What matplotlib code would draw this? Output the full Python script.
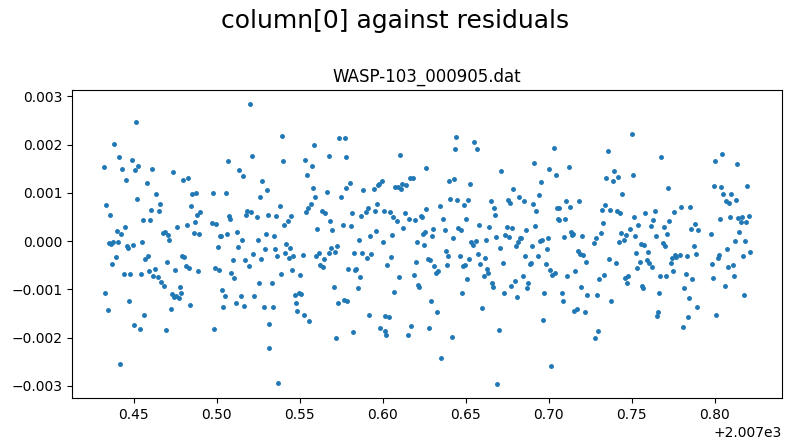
import numpy as np
from matplotlib import pyplot as plt

# time (fraction after 2007) and residuals (units of 1e-3)
time_frac = [
    0.4321, 0.4327, 0.4333, 0.4345, 0.4349, 0.4357, 0.4363, 0.4369, 0.4375, 0.4381,
    0.4393, 0.4399, 0.4405, 0.4411, 0.4418, 0.4424, 0.4430, 0.4442, 0.4448, 0.4454,
    0.4460, 0.4466, 0.4472, 0.4478, 0.4490, 0.4496, 0.4502, 0.4508, 0.4514, 0.4520,
    0.4526, 0.4538, 0.4544, 0.4550, 0.4556, 0.4562, 0.4568, 0.4580, 0.4586, 0.4592,
    0.4599, 0.4605, 0.4611, 0.4613,
    0.4629, 0.4635, 0.4647, 0.4653, 0.4659, 0.4665, 0.4677, 0.4683, 0.4689, 0.4695,
    0.4701, 0.4707, 0.4713, 0.4725, 0.4731, 0.4737, 0.4743, 0.4749, 0.4755, 0.4761,
    0.4773, 0.4779, 0.4785, 0.4791, 0.4797, 0.4803, 0.4816, 0.4822, 0.4828, 0.4834,
    0.4840, 0.4846, 0.4852, 0.4864, 0.4870, 0.4876, 0.4882, 0.4888, 0.4894, 0.4900,
    0.4972, 0.4978, 0.4984, 0.4991, 0.4997, 0.5009, 0.5015, 0.5021, 0.5027, 0.5033,
    0.5039, 0.5051, 0.5057, 0.5063, 0.5069, 0.5075, 0.5081, 0.5087, 0.5099, 0.5105,
    0.5117, 0.5123, 0.5129, 0.5135, 0.5147, 0.5153, 0.5159, 0.5165, 0.5171, 0.5177,
    0.5184, 0.5196, 0.5202, 0.5208, 0.5214, 0.5220, 0.5226, 0.5244, 0.5250, 0.5256,
    0.5262, 0.5268, 0.5274, 0.5286, 0.5292, 0.5298, 0.5304, 0.5310, 0.5312, 0.5316,
    0.5334, 0.5340, 0.5346, 0.5352, 0.5358, 0.5364, 0.5370, 0.5383, 0.5389, 0.5395,
    0.5401, 0.5407, 0.5413, 0.5419, 0.5431, 0.5437, 0.5443, 0.5449, 0.5455, 0.5461,
    0.5473, 0.5479, 0.5485, 0.5497, 0.5503, 0.5509, 0.5521, 0.5527, 0.5533, 0.5539,
    0.5545, 0.5551, 0.5558, 0.5570, 0.5576, 0.5582, 0.5588, 0.5594, 0.5600, 0.5606,
    0.5618, 0.5624, 0.5636, 0.5642, 0.5648, 0.5654, 0.5664,
    0.5674, 0.5678, 0.5684, 0.5690, 0.5696, 0.5708, 0.5714, 0.5720, 0.5726, 0.5732,
    0.5738, 0.5745, 0.5757, 0.5763, 0.5769, 0.5775, 0.5781, 0.5787, 0.5793, 0.5805,
    0.5811, 0.5817, 0.5823, 0.5829, 0.5835, 0.5841, 0.5853, 0.5859, 0.5865, 0.5871,
    0.5877, 0.5883, 0.5901, 0.5907, 0.5913, 0.5919, 0.5925, 0.5931, 0.5944, 0.5950,
    0.5956, 0.5962, 0.5968, 0.5974, 0.5980, 0.5992, 0.5998, 0.6004, 0.6010, 0.6014,
    0.6020,
    0.6028, 0.6040, 0.6046, 0.6052, 0.6058, 0.6064, 0.6070, 0.6076, 0.6088, 0.6094,
    0.6100, 0.6106, 0.6112, 0.6118, 0.6124, 0.6136, 0.6142, 0.6149, 0.6155, 0.6161,
    0.6167, 0.6179, 0.6185, 0.6191, 0.6197, 0.6203, 0.6209, 0.6215, 0.6227, 0.6233,
    0.6239, 0.6245, 0.6251, 0.6257, 0.6263, 0.6275, 0.6281, 0.6287, 0.6293, 0.6299,
    0.6305, 0.6311, 0.6323, 0.6329, 0.6335, 0.6347, 0.6353, 0.6360,
    0.6374, 0.6378, 0.6384, 0.6390, 0.6396, 0.6402, 0.6414, 0.6420, 0.6426, 0.6432,
    0.6438, 0.6444, 0.6450, 0.6462, 0.6468, 0.6474, 0.6480, 0.6486, 0.6492, 0.6498,
    0.6510, 0.6516, 0.6522, 0.6528, 0.6534, 0.6541, 0.6547, 0.6559, 0.6565, 0.6571,
    0.6577, 0.6583, 0.6595, 0.6607, 0.6613, 0.6619, 0.6625, 0.6631, 0.6637, 0.6649,
    0.6655, 0.6661, 0.6667, 0.6673, 0.6679, 0.6685, 0.6697, 0.6703, 0.6710,
    0.6724, 0.6728, 0.6734, 0.6746, 0.6752, 0.6758, 0.6764, 0.6770, 0.6776, 0.6782,
    0.6794, 0.6800, 0.6806, 0.6812, 0.6818, 0.6824, 0.6830, 0.6842, 0.6848, 0.6854,
    0.6860, 0.6866, 0.6872, 0.6884, 0.6890, 0.6896, 0.6902, 0.6908, 0.6914, 0.6920,
    0.6933, 0.6939, 0.6945, 0.6951, 0.6957, 0.6963, 0.6969, 0.6981, 0.6987, 0.6993,
    0.6999, 0.7005, 0.7011, 0.7017, 0.7029, 0.7035, 0.7041, 0.7047, 0.7053, 0.7059,
    0.7061,
    0.7077, 0.7083, 0.7089, 0.7096, 0.7102, 0.7108, 0.7120, 0.7126, 0.7132, 0.7138,
    0.7144, 0.7150, 0.7156, 0.7168, 0.7174, 0.7180, 0.7186, 0.7192, 0.7198, 0.7204,
    0.7216, 0.7222, 0.7228, 0.7270, 0.7276, 0.7283, 0.7289, 0.7295, 0.7301, 0.7313,
    0.7319, 0.7325, 0.7331, 0.7337, 0.7343, 0.7355, 0.7361, 0.7367, 0.7373, 0.7385,
    0.7391, 0.7403, 0.7409, 0.7415,
    0.7423, 0.7427, 0.7433, 0.7439, 0.7451, 0.7457, 0.7463, 0.7469, 0.7475, 0.7488,
    0.7500, 0.7506, 0.7512, 0.7518, 0.7524, 0.7530, 0.7536, 0.7548, 0.7554, 0.7560,
    0.7566, 0.7572, 0.7578, 0.7590, 0.7596, 0.7602, 0.7614, 0.7620, 0.7626, 0.7638,
    0.7644, 0.7650, 0.7656, 0.7662, 0.7668, 0.7675, 0.7687, 0.7693, 0.7699, 0.7705,
    0.7711, 0.7717, 0.7723, 0.7735, 0.7741, 0.7747, 0.7753, 0.7759, 0.7765,
    0.7789, 0.7795, 0.7807, 0.7813, 0.7825, 0.7831, 0.7837, 0.7843, 0.7849, 0.7855,
    0.7861, 0.7874, 0.7880, 0.7886, 0.7892, 0.7898, 0.7976, 0.7982, 0.7988, 0.7994,
    0.8000, 0.8006, 0.8018, 0.8024, 0.8030, 0.8036, 0.8042, 0.8048, 0.8060, 0.8066,
    0.8072, 0.8079, 0.8085, 0.8091, 0.8097, 0.8109, 0.8115,
    0.8123, 0.8127, 0.8133, 0.8139, 0.8145, 0.8157, 0.8163, 0.8169, 0.8175, 0.8181,
    0.8187, 0.8193, 0.8205, 0.8211,
]

resid_milli = [
    1.54, -1.07, 0.75, -1.43, -0.05, 0.54, -0.07, -0.47, -0.03, 2.02,
    -0.34, 0.20, -0.03, 1.75, -2.54, 0.14, 1.50, -0.68, 0.29, 1.27,
    -0.11, -0.15, -1.24, -0.68, 1.67, -0.09, -1.74, 1.48, 2.46, 0.87,
    1.56, -1.83, -0.68, -0.03, 0.43, -1.53, -0.38, 1.21, -0.30, -0.63,
    0.43, 0.64, 1.50, -0.72,
    -0.57, 0.98, -0.74, 0.62, 0.77, -0.84, 0.16, -0.93, 0.18, -1.85,
    -0.43, 0.12, 0.03, -1.41, -1.09, 1.44, -1.16, -0.61, -1.14, 0.29,
    -1.18, -0.95, -1.07, -0.30, 1.27, -0.34, -0.51, 0.33, 1.31, -0.55,
    -1.33, 0.73, 0.98, 0.16, 0.39, 1.00, 0.54, -0.63, 0.14, 0.60,
    0.38, 1.00, -1.83, -0.55, 0.35, -0.13, -0.59, 0.10, 0.10, -1.01,
    -1.37, -1.14, 1.00, 0.14, 1.65, 0.52, 0.45, -0.66, -0.40, -0.76,
    -1.28, 0.18, -0.13, 1.48, -1.14, 0.03, 1.35, -1.35, -0.40, 0.54,
    0.62, -0.51, 2.84, 0.60, 1.77, -0.26, -1.14, 0.50, 0.03, -0.86,
    0.91, -0.38, 1.25, -1.37, -0.17, 0.14, 1.06, 0.54, -2.22, -1.72,
    -0.86, -1.37, 0.10, -0.17, 0.52, -0.32, -2.94, 0.73, -0.68, 2.17,
    1.65, 0.33, -0.24, -0.07, 0.41, -0.36, -0.15, 0.52, -0.61, -0.32,
    -1.12, -1.28, -1.45, -1.07, -0.70, -1.09, -0.28, -1.53, 1.67, 0.60,
    1.37, 0.68, -1.66, 0.77, 1.56, 1.10, 2.00, 0.91, -0.32, 0.24,
    -0.24, -0.49, 0.62, -0.53, -0.38, 0.58, 1.02,
    1.77, -0.24, 0.41, -0.15, 0.22, -0.95, -0.22, -2.02, -0.11, -1.28,
    2.13, 0.91, 0.33, -1.22, 2.13, 1.10, 1.75, -1.24, -0.57, 1.21,
    0.31, 0.58, -1.89, -0.24, -0.61, -0.57, -0.97, 0.03, -0.74, 0.52,
    -0.24, 1.06, 0.60, -0.36, 0.68, -1.53, 0.10, -0.26, 1.08, 0.62,
    0.20, 0.77, 1.16, 1.19, -1.81, 1.25, -0.01, 0.62, -1.87, -1.56,
    -1.95,
    -0.49, -1.58, 0.60, -0.34, 0.12, 0.50, -1.05, 1.12, 0.41, 1.12,
    -0.74, 1.79, 1.08, 1.19, 0.27, 0.58, 1.16, -1.95, 0.45, 1.31,
    -1.76, 1.31, -0.70, 0.43, -0.43, -0.03, -0.91, -0.95, 0.52, 0.50,
    0.14, -0.09, 0.18, 0.66, 1.52, -0.38, -1.81, -0.40, -1.24, 0.10,
    0.24, -0.51, -0.66, -1.47, -0.63, 0.73, -2.43, 0.45,
    0.22, -0.20, -0.49, -0.32, 1.25, 0.87, -1.99, 0.06, 1.29, 1.90,
    2.15, 0.85, 0.27, -0.30, 0.22, -1.07, -0.51, 0.75, -0.49, 0.45,
    -0.78, 0.85, -0.38, 1.19, -0.03, -0.09, 2.06, 0.01, 1.90, -0.26,
    0.33, -0.47, -1.39, -0.72, -0.36, 0.03, -0.57, -0.66, 0.29, 0.83,
    -0.86, -0.95, 0.68, 0.54, 0.08, -2.96, -1.85, -0.15, 1.46,
    -0.45, -1.07, 0.12, 0.29, 0.85, 0.08, 0.79, -0.93, 0.27, 1.08,
    -0.82, -0.11, -1.16, -0.03, 0.91, 0.06, 0.06, -0.72, 0.83, -0.30,
    0.22, -0.97, -0.86, -0.47, -0.45, -0.11, 0.77, 1.62, 0.31, 0.62,
    -0.32, 0.96, 0.01, 1.23, 0.03, -1.64, -1.07, -0.47, -0.17, 0.06,
    1.50, -0.59, -2.60, -0.70, 1.92, -0.66, 1.37, 0.68, 0.45, 0.68,
    0.43,
    -1.07, -1.24, 0.08, 0.45, 0.83, -0.72, 1.54, 0.70, 0.18, 0.12,
    0.14, -1.45, -0.63, -1.41, -0.20, 0.83, -0.26, -0.95, 0.10, -0.28,
    -1.47, -0.43, -1.12, -0.05, -2.02, 0.06, -1.12, -1.87, -0.78, 0.16,
    0.64, 0.37, -0.70, 0.75, 1.31, 1.86, -0.38, 0.64, -1.24, 1.25,
    1.46, -0.45, 0.62, 1.33,
    -0.01, 0.58, 0.16, 0.98, 0.03, -0.76, 0.12, -0.86, -0.72, 0.24,
    2.21, 1.37, 0.50, 0.10, -0.24, -0.55, 0.33, -0.43, -0.07, -0.93,
    -0.97, -0.09, 0.58, -0.40, -0.22, -0.45, 0.31, -0.53, 0.43, 0.62,
    0.10, -1.56, -1.47, -1.07, -0.72, 1.75, -0.05, 0.29, -0.11, -0.72,
    0.14, 1.10, 0.41, -0.45, -0.36, -0.63, 0.60, -0.28, -0.34,
    -0.28, 0.70, -1.79, -0.97, -0.68, -0.32, -1.58, -1.18, 0.70, 0.24,
    -0.78, -0.11, 0.35, -0.26, -1.37, 0.22, 0.14, -0.47, -0.76, 1.14,
    1.65, -1.53, -0.36, -0.28, 0.45, 1.12, 1.81, 0.98, -0.93, 0.83,
    -0.17, -0.53, 0.79, 0.50, 0.98, -0.49, -0.72,
    0.01, 0.85, 1.60, 0.47, 0.18, 0.39, 0.50, -0.30, -1.12, 0.01,
    0.39, 1.14, 0.52, -0.22,
]

t = 2007 + np.array(time_frac)
resid = np.array(resid_milli) * 1e-3

fig = plt.figure(figsize=(7.9, 4.48), dpi=100)
plt.plot(t, resid, '.', color='#1f77b4', ms=5)
plt.title('WASP-103_000905.dat')
fig.suptitle('column[0] against residuals', fontsize=18)
plt.subplots_adjust(left=0.091, right=0.99, top=0.799, bottom=0.112)
plt.savefig('out.png')
